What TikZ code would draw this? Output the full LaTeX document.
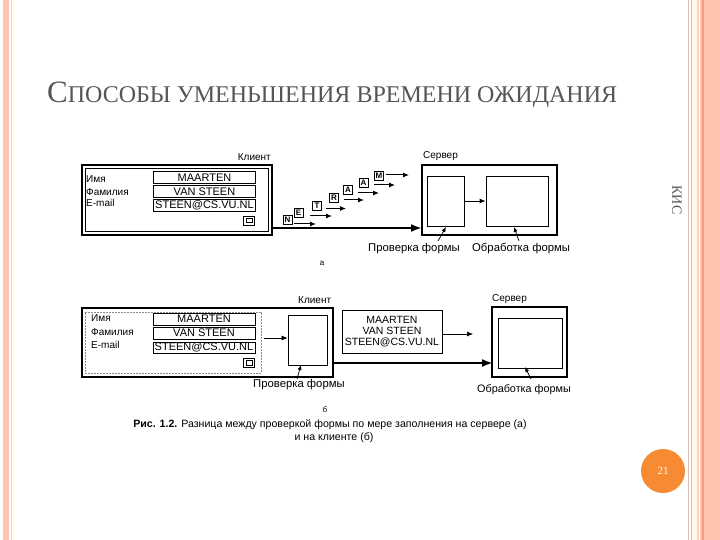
\documentclass[tikz,border=0pt]{standalone}
\usepackage{fontspec}
\setmainfont{Liberation Serif}
\setsansfont{Liberation Sans}
\usetikzlibrary{arrows.meta}
\definecolor{salmon}{HTML}{FFC4AE}
\definecolor{salmondk}{HTML}{F29C80}
\definecolor{salmonlt}{HTML}{F6D2C6}
\definecolor{creamc}{HTML}{FFF6E6}
\definecolor{taupe}{HTML}{DCC0B2}
\definecolor{orangec}{HTML}{F68B33}
\definecolor{titlegray}{HTML}{555555}
\tikzset{
  lab/.style={font=\sffamily\fontsize{10}{11}\selectfont, anchor=west, inner sep=0pt},
  captext/.style={font=\sffamily\fontsize{10}{11}\selectfont, anchor=west, inner sep=0pt},
  bottomtext/.style={font=\sffamily\fontsize{11.3}{12}\selectfont, anchor=west, inner sep=0pt},
  field/.style={draw, line width=0.6pt, minimum width=102pt, minimum height=11.5pt, inner sep=0pt, font=\sffamily\fontsize{11}{11}\selectfont},
  letbox/.style={draw, line width=0.7pt, minimum width=9pt, minimum height=9pt, inner sep=0pt, font=\sffamily\bfseries\fontsize{8}{8}\selectfont},
  letarrow/.style={line width=1pt, -{Latex[length=6pt,width=5pt]}},
  thinarrow/.style={line width=0.6pt, -{Latex[length=6pt,width=5pt]}},
  thickarrow/.style={line width=2pt, -{Latex[length=11pt,width=8pt]}},
  pointer/.style={line width=0.7pt, -{Latex[length=5pt,width=4pt]}},
  bigbox/.style={draw, line width=1.3pt, inner sep=0pt},
  smallbox/.style={draw, line width=0.8pt, inner sep=0pt},
  button/.style={draw, line width=0.6pt, minimum width=11pt, minimum height=9pt, inner sep=0pt},
}
\begin{document}
\begin{tikzpicture}[x=1pt,y=-1pt]
\useasboundingbox (0,0) rectangle (720,540);
\fill[white] (0,0) rectangle (720,540);
% page borders
\fill[salmon] (3,0) rectangle (9,540);
\fill[salmonlt] (11,0) rectangle (12.2,540);
\fill[creamc] (14,0) rectangle (15,540);
\fill[taupe] (688,0) rectangle (689,540);
\fill[taupe] (690.5,0) rectangle (691.5,540);
\fill[creamc] (692,0) rectangle (697,540);
\fill[salmonlt] (697,0) rectangle (699,540);
\fill[salmon] (700,0) rectangle (720,540);
\fill[salmondk] (702,0) rectangle (703.5,540);
% title
\node[anchor=base west, inner sep=0pt, text=titlegray, font=\rmfamily] (title) at (47,103)
  {{\fontsize{31}{31}\selectfont С}{\fontsize{24}{24}\selectfont ПОСОБЫ УМЕНЬШЕНИЯ ВРЕМЕНИ ОЖИДАНИЯ}};
\node[rotate=-90, text=titlegray, font=\rmfamily\fontsize{14}{14}\selectfont, inner sep=0pt] (kis) at (677,200) {КИС};
% page number
\node[circle, fill=orangec, minimum size=44pt, inner sep=0pt, text=creamc, font=\rmfamily\fontsize{11}{11}\selectfont] (pg) at (663,471) {21};

% ===== (a) =====
\node[draw, line width=1.6pt, minimum width=190pt, minimum height=70pt, inner sep=0pt] (ca) at (177,200) {};
\node[draw, line width=0.5pt, minimum width=183pt, minimum height=63pt, inner sep=0pt] (cai) at (176.5,199.5) {};
\node[lab] (la1) at (86,179) {Имя};
\node[lab] (la2) at (86,192) {Фамилия};
\node[lab] (la3) at (86,203) {E-mail};
\node[field] (fa1) at (204.5,177.5) {MAARTEN};
\node[field] (fa2) at (204.5,191.5) {VAN STEEN};
\node[field] (fa3) at (204.5,205.5) {STEEN@CS.VU.NL};
\node[button] (ba) at (249,221) {};
\node[draw, line width=0.5pt, minimum width=6pt, minimum height=4pt, inner sep=0pt] (bai) at (249,220.5) {};
\node[captext, anchor=south east] (kla) at (271,161) {Клиент};

% letters
\node[letbox] (lN) at (287.5,220) {N};
\node[letbox] (lE) at (298.5,213) {E};
\node[letbox] (lT) at (317,205.5) {T};
\node[letbox] (lR) at (334,197.5) {R};
\node[letbox] (lA1) at (348,190) {A};
\node[letbox] (lA2) at (363.5,182.5) {A};
\node[letbox] (lM) at (379,175.5) {M};
\coordinate (aN1) at (294,224); \coordinate (aN2) at (316,224);
\coordinate (aE1) at (310,216); \coordinate (aE2) at (332,216);
\coordinate (aT1) at (326,208.5); \coordinate (aT2) at (346,208.5);
\coordinate (aR1) at (344,200); \coordinate (aR2) at (364,200);
\coordinate (aA11) at (358,193); \coordinate (aA12) at (379,193);
\coordinate (aA21) at (374,185); \coordinate (aA22) at (395,185);
\coordinate (aM1) at (386,175); \coordinate (aM2) at (409,175);
\draw[letarrow] (aN1) -- (aN2);
\draw[letarrow] (aE1) -- (aE2);
\draw[letarrow] (aT1) -- (aT2);
\draw[letarrow] (aR1) -- (aR2);
\draw[letarrow] (aA11) -- (aA12);
\draw[letarrow] (aA21) -- (aA22);
\draw[letarrow] (aM1) -- (aM2);

% server (a)
\node[bigbox, minimum width=135pt, minimum height=70pt] (sa) at (489.5,200) {};
\node[smallbox, minimum width=37pt, minimum height=50pt] (sa1) at (445.5,201) {};
\node[smallbox, minimum width=62pt, minimum height=50pt] (sa2) at (517,201) {};
\node[captext, anchor=south west] (sva) at (423,161) {Сервер};
\draw[thinarrow, line width=0.9pt] (sa1.east) -- (sa2.west);
\coordinate (ma1) at (271,228);
\coordinate (ma2) at (422,228);
\draw[thickarrow] (ma1) -- (ma2);
\node[bottomtext] (pfa) at (368,249) {Проверка формы};
\node[bottomtext] (ofa) at (472,249) {Обработка формы};
\coordinate (pa1) at (438,241); \coordinate (pa2) at (446,227);
\coordinate (pa3) at (519,241); \coordinate (pa4) at (514,227);
\draw[pointer] (pa1) -- (pa2);
\draw[pointer] (pa3) -- (pa4);
\node[font=\sffamily\fontsize{8}{8}\selectfont, inner sep=0pt] (la) at (322,263) {а};

% ===== (b) =====
\node[bigbox, minimum width=251pt, minimum height=69pt] (cb) at (207.5,342.5) {};
\node[draw=black!45, line width=0.4pt, dash pattern=on 2pt off 1pt, minimum width=176pt, minimum height=61pt, inner sep=0pt] (cbf) at (173,342.5) {};
\node[lab] (lb1) at (91,318) {Имя};
\node[lab] (lb2) at (91,332) {Фамилия};
\node[lab] (lb3) at (91,345) {E-mail};
\node[field, line width=0.5pt] (fb1) at (204,319) {MAARTEN};
\node[field, line width=0.5pt] (fb2) at (204,333) {VAN STEEN};
\node[field, line width=0.5pt] (fb3) at (204,347.5) {STEEN@CS.VU.NL};
\node[button] (bb) at (249,363) {};
\node[draw, line width=0.5pt, minimum width=6pt, minimum height=5pt, inner sep=0pt] (bbi) at (249,363) {};
\node[smallbox, minimum width=39pt, minimum height=50pt] (pb) at (307.5,340) {};
\coordinate (tb1) at (264,338);
\draw[thinarrow] (tb1) -- (tb1 -| pb.west);
\node[captext, anchor=south west] (klb) at (298,304) {Клиент};
\node[bottomtext] (pfb) at (253,385) {Проверка формы};
\coordinate (pb1) at (297,379); \coordinate (pb2) at (301,365);
\draw[pointer] (pb1) -- (pb2);

\node[draw, line width=0.6pt, minimum width=100pt, minimum height=43pt, inner sep=0pt, align=center,
  font=\sffamily\fontsize{10.5}{11}\selectfont] (db) at (392,331.5) {MAARTEN\\VAN STEEN\\STEEN@CS.VU.NL};
\coordinate (da2) at (473,334);
\draw[thinarrow] (db.east |- da2) -- (da2);
\coordinate (mb1) at (333,363);
\coordinate (mb2) at (493,363);
\draw[thickarrow] (mb1) -- (mb2);
\node[bigbox, minimum width=75pt, minimum height=70pt] (sb) at (529.5,342) {};
\node[smallbox, minimum width=64pt, minimum height=50pt] (sb1) at (530,343) {};
\node[captext, anchor=south west] (svb) at (492,304) {Сервер};
\node[bottomtext, font=\sffamily\fontsize{10.8}{12}\selectfont] (ofb) at (477,390) {Обработка формы};
\coordinate (pb3) at (531,379); \coordinate (pb4) at (525,367);
\draw[pointer] (pb3) -- (pb4);
\node[font=\sffamily\fontsize{8}{8}\selectfont, inner sep=0pt] (lbb) at (325,410) {б};

% caption
\node[font=\sffamily\fontsize{10.6}{12}\selectfont, inner sep=0pt] (cap1) at (330,425)
  {\textbf{Рис. 1.2.} Разница между проверкой формы по мере заполнения на сервере (а)};
\node[font=\sffamily\fontsize{10.6}{12}\selectfont, inner sep=0pt] (cap2) at (334,438)
  {и на клиенте (б)};
\end{tikzpicture}
\end{document}
